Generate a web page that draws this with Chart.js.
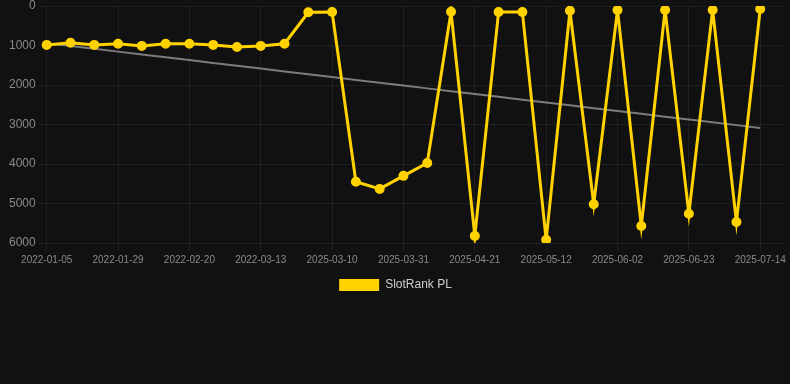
<!DOCTYPE html>
<html>
<head>
<meta charset="utf-8">
<script src="https://cdn.jsdelivr.net/npm/chart.js@4/dist/chart.umd.min.js"></script>
<style>
    html, body { margin: 0; padding: 0; background: #111111; }
    #wrap { position: relative; width: 790px; height: 301px; }
</style>
</head>
<body>
<div id="wrap"><canvas id="rankChart"></canvas></div>
<script>
// Weekly rank snapshots (lower is better, axis is reversed)
const dates = [
    '2022-01-05', '2022-01-13', '2022-01-21', '2022-01-29', '2022-02-05', '2022-02-13',
    '2022-02-20', '2022-02-27', '2022-03-06', '2022-03-13', '2022-03-20', '2025-03-03',
    '2025-03-10', '2025-03-17', '2025-03-24', '2025-03-31', '2025-04-07', '2025-04-14',
    '2025-04-21', '2025-04-28', '2025-05-05', '2025-05-12', '2025-05-19', '2025-05-26',
    '2025-06-02', '2025-06-09', '2025-06-16', '2025-06-23', '2025-06-30', '2025-07-07',
    '2025-07-14', '2025-07-21'
];
const ranks = [
    985, 930, 985, 955, 1010, 955, 955, 985, 1040, 1010, 955, 160,
    150, 4450, 4630, 4300, 3975, 145, 5820, 150, 150, 5920, 120, 5020,
    100, 5570, 100, 5260, 100, 5470, 75
];
const yTicks = [0, 1000, 2000, 3000, 4000, 5000, 6000];

const gold = '#FFD200';
const gridColor = 'rgba(255, 255, 255, 0.06)';
const tickColor = '#8a8a8a';

// least squares trend over the rank series
function trendOf(values) {
    const n = values.length;
    let sx = 0, sy = 0, sxy = 0, sxx = 0;
    values.forEach((v, i) => { sx += i; sy += v; sxy += i * v; sxx += i * i; });
    const slope = (n * sxy - sx * sy) / (n * sxx - sx * sx);
    const icept = (sy - slope * sx) / n;
    return values.map((v, i) => icept + slope * i);
}

new Chart(document.getElementById('rankChart'), {
    type: 'line',
    data: {
        labels: dates,
        datasets: [
            {
                label: 'SlotRank PL',
                data: ranks,
                borderColor: gold,
                backgroundColor: gold,
                borderWidth: 3,
                pointRadius: 4,
                pointBorderWidth: 2,
                pointBackgroundColor: gold,
                pointBorderColor: gold,
                tension: 0,
                order: 1
            },
            {
                label: 'trend',
                data: trendOf(ranks),
                borderColor: 'rgba(160, 160, 160, 0.75)',
                borderWidth: 2,
                pointRadius: 0,
                fill: false,
                order: 2
            }
        ]
    },
    options: {
        responsive: true,
        maintainAspectRatio: false,
        animation: false,
        layout: { padding: { left: 6, right: 5, top: 0 } },
        plugins: {
            legend: {
                position: 'bottom',
                labels: {
                    color: '#d0d0d0',
                    font: { family: 'Arial, "Liberation Sans"', size: 12 },
                    boxWidth: 40,
                    boxHeight: 12,
                    filter: item => item.text !== 'trend',
                    generateLabels: chart => Chart.defaults.plugins.legend.labels.generateLabels(chart)
                        .map(item => Object.assign(item, { lineWidth: 0 }))
                }
            },
            tooltip: { enabled: false }
        },
        scales: {
            y: {
                reverse: true,
                min: 0,
                max: 6000,
                afterBuildTicks: axis => { axis.ticks = yTicks.map(v => ({ value: v })); },
                ticks: {
                    color: tickColor,
                    font: { family: 'Arial, "Liberation Sans"', size: 12, lineHeight: 0.5 },
                    callback: v => String(v)
                },
                grid: { color: gridColor },
                border: { display: false }
            },
            x: {
                ticks: {
                    color: tickColor,
                    font: { family: 'Arial, "Liberation Sans"', size: 10 },
                    autoSkip: false,
                    maxRotation: 0,
                    callback: function (val, i) { return i % 3 === 0 ? this.getLabelForValue(val) : ''; }
                },
                grid: {
                    color: ctx => (ctx.index % 3 === 0 ? gridColor : 'transparent')
                },
                border: { display: false }
            }
        }
    }
});
</script>
</body>
</html>
